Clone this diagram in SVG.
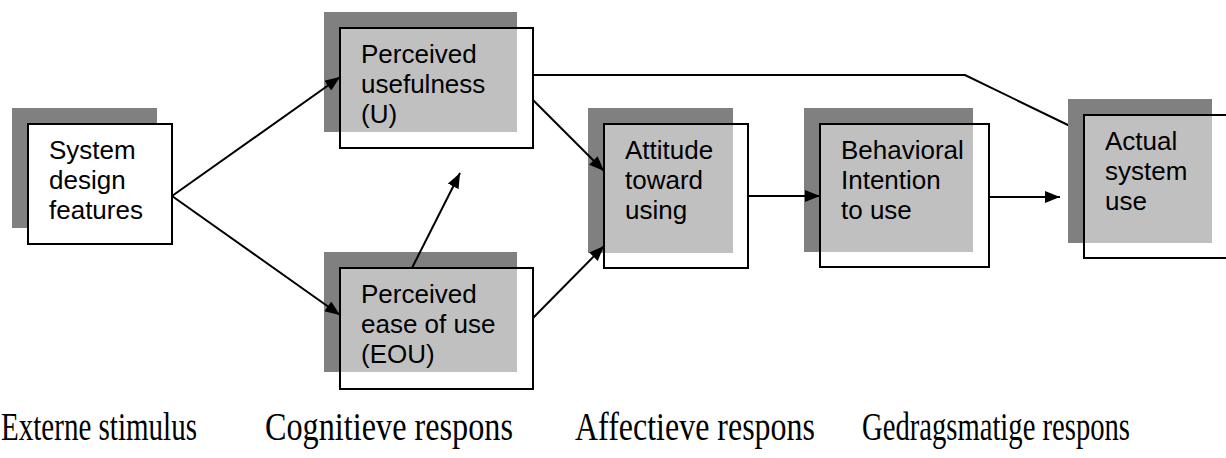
<svg xmlns="http://www.w3.org/2000/svg" width="1226" height="458" viewBox="0 0 1226 458">
  <style>
    .shadow { fill: #808080; }
    .box { fill: #ffffff; fill-opacity: 0.5; stroke: #000000; stroke-width: 2; }
    .box.solid { fill-opacity: 1; }
    .lbl { font-family: "Liberation Sans", Arial, sans-serif; font-size: 26px; fill: #000000; }
    .stage { font-family: "Liberation Serif", "Times New Roman", serif; font-size: 39px; fill: #000000; }
    .wire { fill: none; stroke: #000000; stroke-width: 2; }
  </style>
  <defs>
    <marker id="arrow" markerUnits="userSpaceOnUse" markerWidth="16" markerHeight="12" refX="15" refY="6" orient="auto">
      <path d="M0,0 L15,6 L0,12 Z" fill="#000000"/>
    </marker>
  </defs>

  <rect width="1226" height="458" fill="#ffffff"/>

  <!-- link drawn under the boxes, so its end disappears behind the last shadow -->
  <g id="connectors-back">
    <polyline class="wire" points="533,75 965,75 1070,126"/>
  </g>

  <g id="node-system">
    <rect class="shadow" x="12" y="108" width="145" height="120"/>
    <rect class="box solid" x="28" y="124" width="144" height="120"/>
    <text class="lbl" x="49" y="159">System</text>
    <text class="lbl" x="49" y="189">design</text>
    <text class="lbl" x="49" y="219">features</text>
  </g>

  <g id="node-usefulness">
    <rect class="shadow" x="324" y="12" width="193" height="120"/>
    <rect class="box" x="340" y="28" width="193" height="120"/>
    <text class="lbl" x="361" y="63">Perceived</text>
    <text class="lbl" x="361" y="93">usefulness</text>
    <text class="lbl" x="361" y="123">(U)</text>
  </g>

  <g id="node-ease">
    <rect class="shadow" x="324" y="252" width="193" height="120"/>
    <rect class="box" x="340" y="268" width="193" height="121"/>
    <text class="lbl" x="361" y="303">Perceived</text>
    <text class="lbl" x="361" y="333">ease of use</text>
    <text class="lbl" x="361" y="363">(EOU)</text>
  </g>

  <g id="node-attitude">
    <rect class="shadow" x="588" y="108" width="145" height="145"/>
    <rect class="box" x="604" y="124" width="144" height="144"/>
    <text class="lbl" x="625" y="159">Attitude</text>
    <text class="lbl" x="625" y="189">toward</text>
    <text class="lbl" x="625" y="219">using</text>
  </g>

  <g id="node-intention">
    <rect class="shadow" x="804" y="108" width="169" height="144"/>
    <rect class="box" x="820" y="124" width="169" height="143"/>
    <text class="lbl" x="841" y="159">Behavioral</text>
    <text class="lbl" x="841" y="189">Intention</text>
    <text class="lbl" x="841" y="219">to use</text>
  </g>

  <g id="node-actual">
    <rect class="shadow" x="1068" y="99" width="144" height="144"/>
    <rect class="box" x="1084" y="115" width="160" height="143"/>
    <text class="lbl" x="1105" y="150">Actual</text>
    <text class="lbl" x="1105" y="180">system</text>
    <text class="lbl" x="1105" y="210">use</text>
  </g>

  <g id="connectors">
    <line class="wire" x1="172" y1="196" x2="340" y2="77" marker-end="url(#arrow)"/>
    <line class="wire" x1="172" y1="196" x2="340" y2="315" marker-end="url(#arrow)"/>
    <line class="wire" x1="412" y1="268" x2="460" y2="173" marker-end="url(#arrow)"/>
    <line class="wire" x1="533" y1="100" x2="604" y2="171" marker-end="url(#arrow)"/>
    <line class="wire" x1="533" y1="318" x2="604" y2="246" marker-end="url(#arrow)"/>
    <line class="wire" x1="748" y1="196" x2="820" y2="196" marker-end="url(#arrow)"/>
    <line class="wire" x1="989" y1="197" x2="1060" y2="197" marker-end="url(#arrow)"/>
  </g>

  <g id="stage-labels">
    <text class="stage" x="1" y="440" textLength="196" lengthAdjust="spacingAndGlyphs">Externe stimulus</text>
    <text class="stage" x="265" y="440" textLength="248" lengthAdjust="spacingAndGlyphs">Cognitieve respons</text>
    <text class="stage" x="575" y="440" textLength="240" lengthAdjust="spacingAndGlyphs">Affectieve respons</text>
    <text class="stage" x="862" y="440" textLength="268" lengthAdjust="spacingAndGlyphs">Gedragsmatige respons</text>
  </g>
</svg>
